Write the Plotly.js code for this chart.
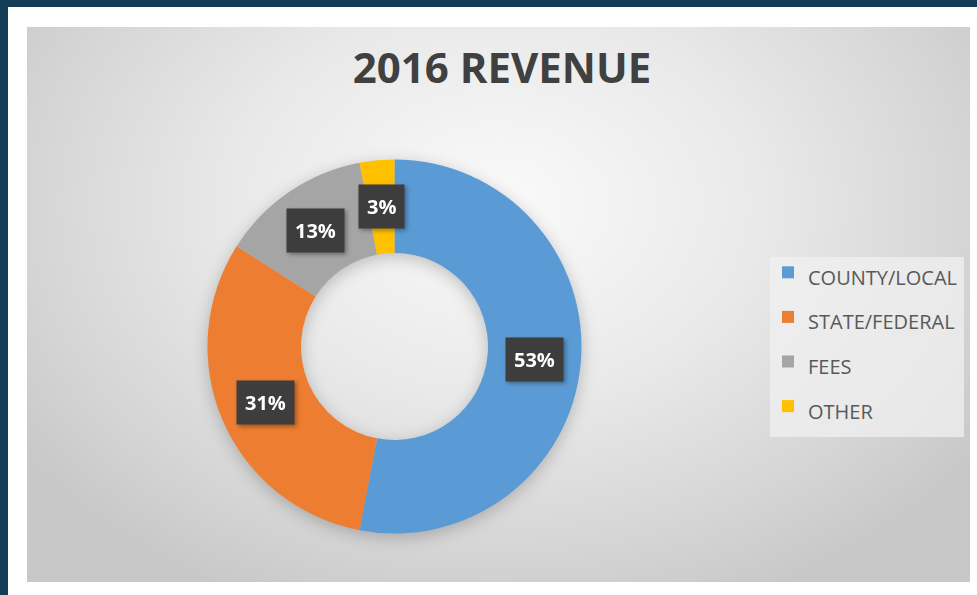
<!DOCTYPE html>
<html>
<head>
<meta charset="utf-8">
<script src="https://cdn.plot.ly/plotly-3.0.1.min.js"></script>
<style>
  html, body { margin: 0; padding: 0; }
  #frame { position: relative; width: 977px; height: 595px; background: #133d56; overflow: hidden; }
  #paper { position: absolute; left: 8px; top: 7px; width: 969px; height: 588px; background: #ffffff; }
  #area { position: absolute; left: 27px; top: 27px; width: 943px; height: 555px;
          background: radial-gradient(ellipse 62% 78% at 50% 32%, #fafafa 0%, #e9e9e9 45%, #d5d5d5 80%, #c8c8c8 100%); }
  #chart { position: absolute; left: 0; top: 0; width: 977px; height: 595px; }
  #chart .pielayer { filter: drop-shadow(0px 4px 8px rgba(0,0,0,0.22)); }
  #chart .annotation { filter: drop-shadow(2px 2px 2px rgba(0,0,0,0.35)); }
</style>
</head>
<body>
<div id="frame">
  <div id="paper"></div>
  <div id="area"></div>
  <div id="chart"></div>
</div>
<script>
// ---- data ----
const categories = ['COUNTY/LOCAL', 'STATE/FEDERAL', 'FEES', 'OTHER'];
const shares = [53, 31, 13, 3];
const sliceColors = ['#5b9bd5', '#ed7d31', '#a5a5a5', '#ffc000'];
const chartTitle = '2016 REVENUE';

// ---- geometry / style ----
const W = 977, H = 595;
const CX = 394.5, CY = 346.5, R = 187, HOLE = 0.5;

const legendLabels = categories.map(c => '<span style="font-size:20px">' + c + '</span>');

const trace = {
  type: 'pie',
  labels: legendLabels,
  values: shares,
  hole: HOLE,
  sort: false,
  direction: 'clockwise',
  rotation: 0,
  textinfo: 'none',
  hoverinfo: 'none',
  marker: { colors: sliceColors, line: { width: 0 } },
  domain: {
    x: [(CX - R) / W, (CX + R) / W],
    y: [1 - (CY + R) / H, 1 - (CY - R) / H]
  }
};

// data labels positioned at the middle of each ring segment
const total = shares.reduce((a, b) => a + b, 0);
const rMid = R * (1 + HOLE) / 2;
let cum = 0;
const annotations = shares.map(v => {
  const mid = (cum + v / 2) / total;
  cum += v;
  const th = mid * 2 * Math.PI;
  const px = CX + rMid * Math.sin(th);
  const py = CY - rMid * Math.cos(th);
  return {
    xref: 'paper', yref: 'paper',
    x: px / W, y: 1 - py / H,
    xanchor: 'center', yanchor: 'middle',
    text: '<b>' + v + '%</b>',
    showarrow: false,
    font: { family: 'Open Sans, sans-serif', size: 20, color: '#ffffff' },
    bgcolor: '#3d3d3d',
    borderpad: 8
  };
});

const layout = {
  width: W, height: H,
  margin: { l: 0, r: 0, t: 0, b: 0 },
  paper_bgcolor: 'rgba(0,0,0,0)',
  plot_bgcolor: 'rgba(0,0,0,0)',
  title: {
    text: chartTitle,
    font: { family: 'Open Sans, sans-serif', size: 42, color: '#404040', weight: 700 },
    x: 502 / W, xanchor: 'center',
    y: 1 - 68 / H, yanchor: 'middle'
  },
  showlegend: true,
  legend: {
    x: 768 / W, xanchor: 'left',
    y: 1 - 245 / H, yanchor: 'top',
    bgcolor: 'rgba(0,0,0,0)',
    borderwidth: 0,
    font: { family: 'Open Sans, sans-serif', size: 32, color: '#595959' },
    traceorder: 'normal'
  },
  shapes: [{
    type: 'rect', xref: 'paper', yref: 'paper', layer: 'below',
    x0: 770 / W, x1: 964 / W, y0: 1 - 437 / H, y1: 1 - 257 / H,
    fillcolor: 'rgba(240,240,240,0.75)', line: { width: 0 }
  }],
  annotations: annotations
};

Plotly.newPlot('chart', [trace], layout, { displayModeBar: false, staticPlot: true });
</script>
</body>
</html>
